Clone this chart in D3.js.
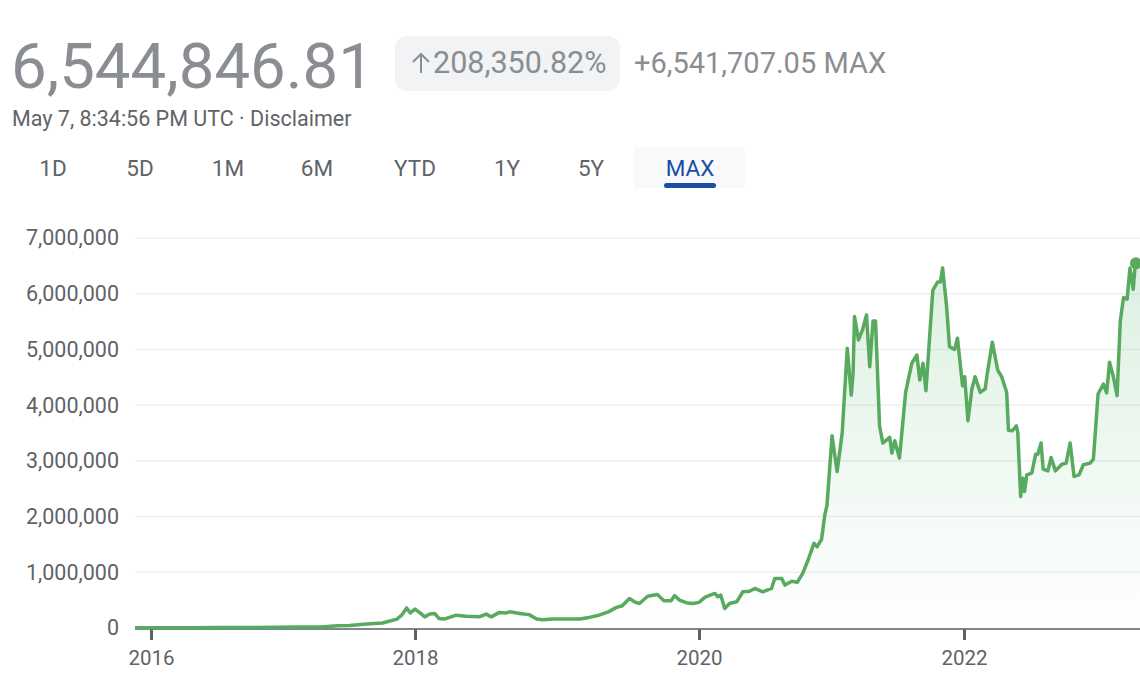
<!DOCTYPE html>
<html>
<head>
<meta charset="utf-8">
<script src="https://cdn.jsdelivr.net/npm/d3@7"></script>
<style>
  body { margin: 0; background: #fff; }
  svg { display: block; font-family: Roboto, "Noto Sans", sans-serif; }
</style>
</head>
<body>
<script>
// price history
const dates = [
  "2015-11-17","2015-12-15","2016-02-15","2016-05-01","2016-07-01","2016-10-01","2016-12-15",
  "2017-02-15","2017-04-15","2017-06-01","2017-07-04","2017-08-20","2017-10-03","2017-11-12",
  "2017-11-25","2017-12-09","2017-12-19","2018-01-01","2018-01-14","2018-01-26","2018-02-08",
  "2018-02-21","2018-03-04","2018-03-17","2018-04-17","2018-05-12","2018-06-15","2018-07-03",
  "2018-07-16","2018-08-06","2018-08-24","2018-09-01","2018-09-27","2018-10-21","2018-11-10",
  "2018-11-25","2018-12-20","2019-01-26","2019-02-28","2019-03-25","2019-04-19","2019-05-13",
  "2019-06-03","2019-06-18","2019-07-06","2019-07-19","2019-08-01","2019-08-22","2019-09-16",
  "2019-10-03","2019-10-21","2019-10-30","2019-11-12","2019-12-01","2019-12-16","2020-01-01",
  "2020-01-17","2020-02-01","2020-02-14","2020-02-22","2020-03-01","2020-03-12","2020-03-25",
  "2020-04-14","2020-05-01","2020-05-19","2020-06-03","2020-06-25","2020-07-19","2020-07-28",
  "2020-08-16","2020-08-25","2020-09-13","2020-09-28","2020-10-13","2020-10-28","2020-11-13",
  "2020-11-22","2020-12-04","2020-12-13","2020-12-19","2021-01-02","2021-01-16","2021-01-30",
  "2021-02-13","2021-02-24","2021-03-01","2021-03-05","2021-03-16","2021-03-27","2021-04-07",
  "2021-04-16","2021-04-25","2021-05-02","2021-05-13","2021-05-22","2021-06-10","2021-06-16",
  "2021-06-24","2021-07-07","2021-07-24","2021-08-10","2021-08-24","2021-09-01","2021-09-10",
  "2021-09-18","2021-10-07","2021-10-20","2021-10-28","2021-11-03","2021-11-14","2021-11-22",
  "2021-12-06","2021-12-14","2021-12-28","2022-01-03","2022-01-12","2022-01-23","2022-02-01",
  "2022-02-15","2022-03-01","2022-03-07","2022-03-21","2022-04-05","2022-04-16","2022-04-30",
  "2022-05-05","2022-05-16","2022-05-27","2022-05-31","2022-06-08","2022-06-14","2022-06-19",
  "2022-06-25","2022-07-09","2022-07-20","2022-07-26","2022-08-04","2022-08-10","2022-08-23",
  "2022-09-01","2022-09-13","2022-10-01","2022-10-13","2022-10-24","2022-11-04","2022-11-18",
  "2022-11-30","2022-12-19","2022-12-28","2023-01-10","2023-01-25","2023-02-03","2023-02-11",
  "2023-02-22","2023-03-04","2023-03-13","2023-03-22","2023-04-01","2023-04-09","2023-04-18",
  "2023-04-24","2023-05-07"
];
const prices = [
  3139, 6000, 5500, 6500, 9500, 9800, 12500,
  18000, 20000, 40000, 45000, 70000, 90000, 160000,
  230000, 360000, 270000, 340000, 270000, 200000, 250000,
  260000, 170000, 160000, 230000, 210000, 200000, 250000,
  200000, 280000, 270000, 290000, 260000, 240000, 160000,
  150000, 160000, 160000, 160000, 190000, 230000, 290000,
  370000, 400000, 530000, 470000, 440000, 570000, 600000,
  490000, 490000, 580000, 500000, 450000, 440000, 460000,
  550000, 590000, 620000, 560000, 590000, 350000, 440000,
  470000, 650000, 660000, 710000, 650000, 710000, 890000,
  890000, 770000, 840000, 820000, 980000, 1220000, 1520000,
  1460000, 1590000, 2030000, 2200000, 3450000, 2810000, 3500000,
  5020000, 4180000, 4570000, 5590000, 5170000, 5350000, 5620000,
  4690000, 5510000, 5510000, 3630000, 3320000, 3420000, 3140000,
  3360000, 3050000, 4230000, 4750000, 4900000, 4450000, 4750000,
  4260000, 6060000, 6210000, 6210000, 6460000, 5770000, 5050000,
  5000000, 5200000, 4350000, 4510000, 3720000, 4290000, 4510000,
  4230000, 4290000, 4570000, 5130000, 4630000, 4510000, 4230000,
  3550000, 3540000, 3630000, 3510000, 2360000, 2690000, 2450000,
  2750000, 2780000, 3120000, 3120000, 3320000, 2850000, 2820000,
  3060000, 2820000, 2940000, 2960000, 3320000, 2720000, 2750000,
  2930000, 2960000, 3030000, 4200000, 4380000, 4220000, 4770000,
  4500000, 4170000, 5510000, 5930000, 5900000, 6460000, 6080000,
  6540000, 6544846.81
];
const yTicks = [0, 1000000, 2000000, 3000000, 4000000, 5000000, 6000000, 7000000];
const xTickYears = ["2016-01-01", "2018-01-01", "2020-01-01", "2022-01-01"];
const tabs = ["1D", "5D", "1M", "6M", "YTD", "1Y", "5Y", "MAX"];
const tabX = [53, 140, 228, 317, 415, 507, 591, 690];

const parse = d3.timeParse("%Y-%m-%d");
const data = dates.map((d, i) => ({ date: parse(d), value: prices[i] }));

const width = 1140, height = 694;
const plotLeft = 135, plotRight = 1140, plotTop = 238, plotBottom = 628;

const svg = d3.select("body").append("svg")
    .attr("width", width)
    .attr("height", height);

// header
svg.append("text")
    .attr("x", 11).attr("y", 88)
    .attr("font-size", 63.5)
    .attr("fill", "#8a8e93")
    .text("6,544,846.81");

svg.append("rect")
    .attr("x", 395).attr("y", 36)
    .attr("width", 225).attr("height", 55)
    .attr("rx", 12)
    .attr("fill", "#f1f3f4");

// thin up arrow drawn as a path
svg.append("path")
    .attr("d", "M421,73V54M413,62L421,54L429,62")
    .attr("fill", "none")
    .attr("stroke", "#8a8e93")
    .attr("stroke-width", 2);

svg.append("text")
    .attr("x", 433).attr("y", 73)
    .attr("font-size", 30.5)
    .attr("fill", "#8a8e93")
    .text("208,350.82%");

svg.append("text")
    .attr("x", 634).attr("y", 73)
    .attr("font-size", 29)
    .attr("fill", "#8a8e93")
    .text("+6,541,707.05 MAX");

svg.append("text")
    .attr("x", 12).attr("y", 126)
    .attr("font-size", 21.5)
    .attr("fill", "#5f6368")
    .text("May 7, 8:34:56 PM UTC · Disclaimer");

// range tabs
svg.append("rect")
    .attr("x", 634).attr("y", 147)
    .attr("width", 111).attr("height", 41)
    .attr("fill", "#f8f9fa");

svg.selectAll("text.tab")
    .data(tabs)
    .enter().append("text")
    .attr("class", "tab")
    .attr("x", (d, i) => tabX[i])
    .attr("y", 176)
    .attr("text-anchor", "middle")
    .attr("font-size", 22.5)
    .attr("fill", d => d == "MAX" ? "#1a4ea4" : "#5f6368")
    .text(d => d);

svg.append("rect")
    .attr("x", 664).attr("y", 183)
    .attr("width", 52).attr("height", 5)
    .attr("rx", 2.5)
    .attr("fill", "#1a4ea4");

// scales
const x = d3.scaleTime()
    .domain([parse("2015-11-17"), parse("2016-01-01"), parse("2018-01-01"),
             parse("2020-01-01"), parse("2022-01-01"), parse("2023-05-07")])
    .range([plotLeft, 151, 415, 699, 964, plotRight]);

const y = d3.scaleLinear()
    .domain([0, 7000000])
    .range([plotBottom, plotTop]);

// grid
svg.append("g")
    .selectAll("line")
    .data(yTicks.slice(1))
    .enter().append("line")
    .attr("x1", plotLeft).attr("x2", plotRight)
    .attr("y1", d => y(d)).attr("y2", d => y(d))
    .attr("stroke", "#eef0f1")
    .attr("stroke-width", 1.5);

const yAxis = svg.append("g")
    .attr("transform", "translate(" + (plotLeft - 16) + ",0)")
    .call(d3.axisLeft(y).tickValues(yTicks).tickFormat(d3.format(",")).tickSize(0).tickPadding(0));
yAxis.select(".domain").remove();
yAxis.selectAll("text")
    .attr("font-size", 21.5)
    .attr("font-family", "Roboto, sans-serif")
    .attr("fill", "#5f6368");

// area gradient
const grad = svg.append("defs").append("linearGradient")
    .attr("id", "fillGrad")
    .attr("gradientUnits", "userSpaceOnUse")
    .attr("x1", 0).attr("x2", 0)
    .attr("y1", y(6500000)).attr("y2", plotBottom);
grad.append("stop").attr("offset", "0%").attr("stop-color", "#34a853").attr("stop-opacity", 0.17);
grad.append("stop").attr("offset", "100%").attr("stop-color", "#34a853").attr("stop-opacity", 0.0);

svg.append("path")
    .datum(data)
    .attr("fill", "url(#fillGrad)")
    .attr("d", d3.area()
        .x(d => x(d.date))
        .y0(plotBottom)
        .y1(d => y(d.value)));

// x axis
const xAxis = svg.append("g")
    .attr("transform", "translate(0," + (plotBottom + 1) + ")")
    .call(d3.axisBottom(x)
        .tickValues(xTickYears.map(parse))
        .tickFormat(d3.timeFormat("%Y"))
        .tickSize(11)
        .tickPadding(10));
xAxis.select(".domain")
    .attr("d", "M" + plotLeft + ",0H" + plotRight)
    .attr("stroke", "#80868b")
    .attr("stroke-width", 2);
xAxis.selectAll(".tick line")
    .attr("stroke", "#5f6368")
    .attr("stroke-width", 3);
xAxis.selectAll("text")
    .attr("font-size", 20.5)
    .attr("font-family", "Roboto, sans-serif")
    .attr("fill", "#5f6368");

// price line
svg.append("path")
    .datum(data)
    .attr("fill", "none")
    .attr("stroke", "#58aa5e")
    .attr("stroke-width", 3.5)
    .attr("stroke-linejoin", "round")
    .attr("d", d3.line()
        .x(d => x(d.date))
        .y(d => y(d.value)));

const last = data[data.length - 1];
svg.append("circle")
    .attr("cx", x(last.date) - 4)
    .attr("cy", y(last.value))
    .attr("r", 6)
    .attr("fill", "#58aa5e");
</script>
</body>
</html>
